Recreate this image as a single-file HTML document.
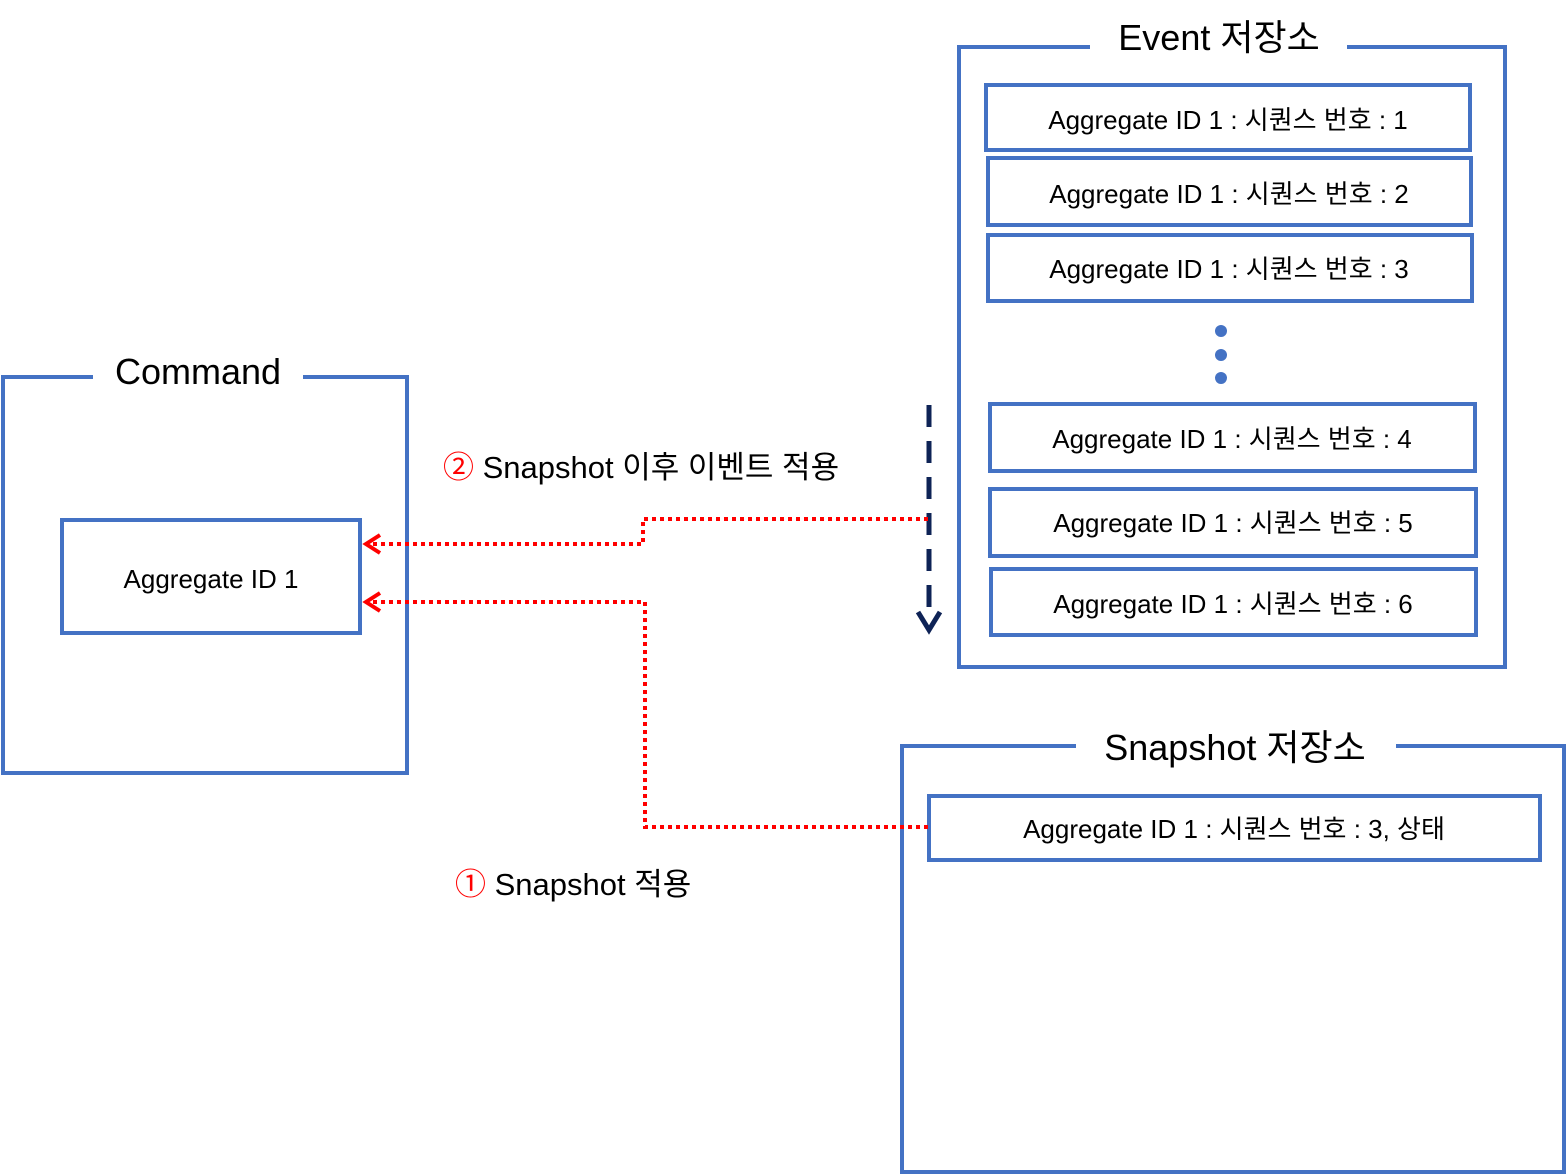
<!DOCTYPE html>
<html><head><meta charset="utf-8"><style>
html,body{margin:0;padding:0;background:#fff;width:1567px;height:1174px;overflow:hidden}
text{font-family:"Liberation Sans","Noto Sans CJK KR",sans-serif;fill:#000}
</style></head><body>
<svg width="1567" height="1174" viewBox="0 0 1567 1174" xmlns="http://www.w3.org/2000/svg">
<g fill="none" stroke="#4472C4" stroke-width="4">
<!-- Command -->
<polyline points="93,377 3,377 3,773 407,773 407,377 303,377"/>
<rect x="62" y="520" width="298" height="113"/>
<!-- Event store -->
<polyline points="1090,47 959,47 959,667 1505,667 1505,47 1347,47"/>
<rect x="986" y="85" width="484" height="65"/>
<rect x="988" y="158" width="483" height="67"/>
<rect x="988" y="235" width="484" height="66"/>
<rect x="990" y="404" width="485" height="67"/>
<rect x="990" y="489" width="486" height="67"/>
<rect x="991" y="569" width="485" height="66"/>
<!-- Snapshot store -->
<polyline points="1076,746 902,746 902,1172 1564,1172 1564,746 1396,746"/>
<rect x="929" y="796" width="611" height="64"/>
</g>
<g fill="#4472C4"><circle cx="1221" cy="331" r="6"/><circle cx="1221" cy="355" r="6"/><circle cx="1221" cy="378" r="6"/></g>
<!-- navy dashed -->
<line x1="929" y1="405" x2="929" y2="612" stroke="#0E2356" stroke-width="5" stroke-dasharray="22,14"/>
<polyline points="918,612 929,630 940,612" fill="none" stroke="#0E2356" stroke-width="5"/>
<!-- red dotted -->
<g fill="none" stroke="#FF0000" stroke-width="4">
<polyline points="928,519 643,519 643,544 368,544" stroke-dasharray="4,4"/>
<polyline points="928,827 645,827 645,602 368,602" stroke-dasharray="4,4"/>
<polyline points="380,535 366,544 380,553"/>
<polyline points="380,593 366,602 380,611"/>
</g>
<g font-size="36">
<text x="198" y="384" text-anchor="middle">Command</text>
<text x="1219" y="50" text-anchor="middle">Event 저장소</text>
<text x="1235" y="760" text-anchor="middle">Snapshot 저장소</text>
</g>
<g font-size="26" text-anchor="middle">
<text x="211" y="588">Aggregate ID 1</text>
<text x="1228" y="129">Aggregate ID 1 : 시퀀스 번호 : 1</text>
<text x="1229" y="203">Aggregate ID 1 : 시퀀스 번호 : 2</text>
<text x="1229" y="278">Aggregate ID 1 : 시퀀스 번호 : 3</text>
<text x="1232" y="448">Aggregate ID 1 : 시퀀스 번호 : 4</text>
<text x="1233" y="532">Aggregate ID 1 : 시퀀스 번호 : 5</text>
<text x="1233" y="613">Aggregate ID 1 : 시퀀스 번호 : 6</text>
<text x="1234" y="838">Aggregate ID 1 : 시퀀스 번호 : 3, 상태</text>
</g>
<g font-size="31">
<text x="443" y="478"><tspan fill="#FF0000" style="fill:#FF0000">②</tspan> Snapshot 이후 이벤트 적용</text>
<text x="455" y="895"><tspan fill="#FF0000" style="fill:#FF0000">①</tspan> Snapshot 적용</text>
</g>
</svg>
</body></html>
